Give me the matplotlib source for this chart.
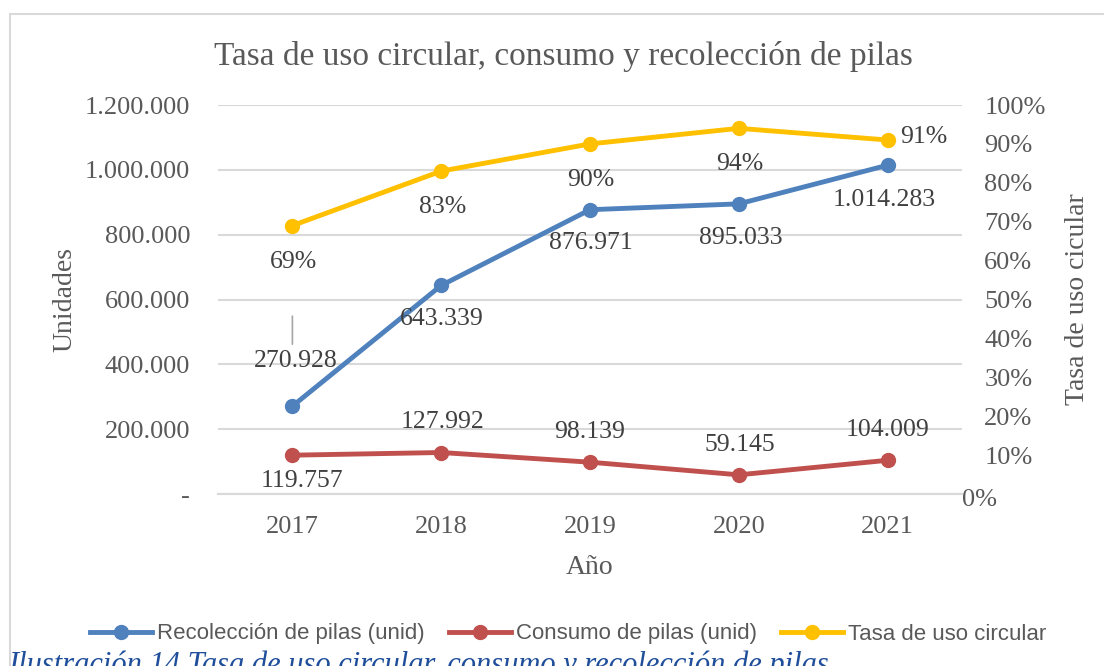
import numpy as np
import matplotlib
matplotlib.use('Agg')
import matplotlib.pyplot as plt
import matplotlib.transforms as mtrans
from matplotlib.patches import Rectangle

# datos del grafico
anios = ['2017', '2018', '2019', '2020', '2021']
recoleccion = [270928, 643339, 876971, 895033, 1014283]
consumo = [119757, 127992, 98139, 59145, 104009]
tasa = [0.69, 0.83, 0.90, 0.94, 0.91]

ticks_izq = [0, 200000, 400000, 600000, 800000, 1000000, 1200000]
etiq_izq = ['-', '200.000', '400.000', '600.000', '800.000', '1.000.000', '1.200.000']
ticks_der = [i / 10 for i in range(11)]
etiq_der = ['%d%%' % (i * 10) for i in range(11)]

AZUL = '#4F81BD'
ROJO = '#C0504D'
AMARILLO = '#FFC000'
GRIS = '#595959'
GRID = '#D9D9D9'
SERIF = ['Liberation Serif', 'DejaVu Serif']
NARROW = ['Liberation Sans Narrow', 'Liberation Sans', 'DejaVu Sans']

def miles(v):
    return '{:,}'.format(v).replace(',', '.')

fig = plt.figure(figsize=(11.04, 6.66), dpi=100)
W, H = 1104, 666
# marco del grafico
fig.patches.append(Rectangle((10 / W, -0.1), 1.2, 1 - 14 / H + 0.1, transform=fig.transFigure,
                             fill=False, edgecolor=GRID, linewidth=1.5))

ax = fig.add_axes([218 / W, 1 - 494 / H, (962 - 218) / W, (494 - 105) / H])
ax2 = ax.twinx()
x = np.arange(len(anios))

ax.set_xlim(-0.5, 4.5)
ax.set_ylim(0, 1200000)
ax2.set_ylim(0, 1)
ax.set_yticks(ticks_izq)
ax.set_yticklabels(etiq_izq)
ax2.set_yticks(ticks_der)
ax2.set_yticklabels(etiq_der)
ax.set_xticks(x)
ax.set_xticklabels(anios)
ax.grid(axis='y', color=GRID, linewidth=1.5)
ax.set_axisbelow(True)
for a in (ax, ax2):
    for s in ('top', 'left', 'right'):
        a.spines[s].set_visible(False)
    a.spines['bottom'].set_color(GRID)
    a.spines['bottom'].set_linewidth(1.5)
    a.tick_params(length=0, labelsize=19, labelcolor=GRIS)
    for lbl in a.get_xticklabels() + a.get_yticklabels():
        lbl.set_family(SERIF)
ax.tick_params(axis='y', pad=20)
ax.tick_params(axis='x', pad=16)
ax2.tick_params(axis='y', pad=16)
# el 0% aparece desplazado en el original
lbl0 = ax2.get_yticklabels()[0]
lbl0.set_transform(lbl0.get_transform() + mtrans.ScaledTranslation(-22 / 100, -3 / 100, fig.dpi_scale_trans))

ax.set_ylabel('Unidades', fontsize=20, color=GRIS, family=SERIF, labelpad=5)
ax2.set_ylabel('Tasa de uso cicular', fontsize=20, color=GRIS, family=SERIF, labelpad=14)
ax.set_xlabel('Año', fontsize=20, color=GRIS, family=SERIF, labelpad=12)
fig.text(563 / W, 1 - 56 / H, 'Tasa de uso circular, consumo y recolección de pilas', ha='center', va='center',
         fontsize=24, color=GRIS, family=SERIF)

l1, = ax.plot(x, recoleccion, '-o', color=AZUL, lw=3.5, ms=10, label='Recolección de pilas (unid)')
l2, = ax.plot(x, consumo, '-o', color=ROJO, lw=3.5, ms=10, label='Consumo de pilas (unid)')
l3, = ax2.plot(x, tasa, '-o', color=AMARILLO, lw=3.5, ms=10, label='Tasa de uso circular')

px = 0.72  # pixeles a puntos
def etiqueta(eje, xi, yi, txt, dx, dy, ha='center'):
    eje.annotate(txt, (xi, yi), xytext=(dx * px, dy * px), textcoords='offset points',
                 ha=ha, va='center', fontsize=18.5, color='#404040', family=SERIF)

off_rec = [(3, 45), (1, -34), (1, -33), (2, -34), (-3, -35)]
for i in range(5):
    etiqueta(ax, x[i], recoleccion[i], miles(recoleccion[i]), *off_rec[i])
ax.annotate('', (x[0], recoleccion[0]), xytext=(0, 90 * px), textcoords='offset points',
            arrowprops=dict(arrowstyle='-', color='#A6A6A6', lw=1.2, shrinkA=0, shrinkB=62 * px))

off_con = [(10, -26), (1, 31), (0, 30), (1, 30), (0, 30)]
for i in range(5):
    etiqueta(ax, x[i], consumo[i], miles(consumo[i]), *off_con[i])

for i in range(4):
    etiqueta(ax2, x[i], tasa[i], '%d%%' % round(tasa[i] * 100), 1, -36)
etiqueta(ax2, x[4], tasa[4], '%d%%' % round(tasa[4] * 100), 13, 3, ha='left')

leg = fig.legend(handles=[l1, l2, l3], loc='center', bbox_to_anchor=(568 / W, 1 - 634 / H), ncol=3,
                 frameon=False, handlelength=2.8, handletextpad=0.2, columnspacing=1.1,
                 prop={'family': NARROW, 'size': 16})
for t in leg.get_texts():
    t.set_color(GRIS)

fig.text(8 / W, 1 - 651 / H, 'Ilustración 14 Tasa de uso circular, consumo y recolección de pilas',
         ha='left', va='top', fontsize=22, style='italic', color='#1F4E9A', family=SERIF)

fig.savefig('out.png', dpi=100)
